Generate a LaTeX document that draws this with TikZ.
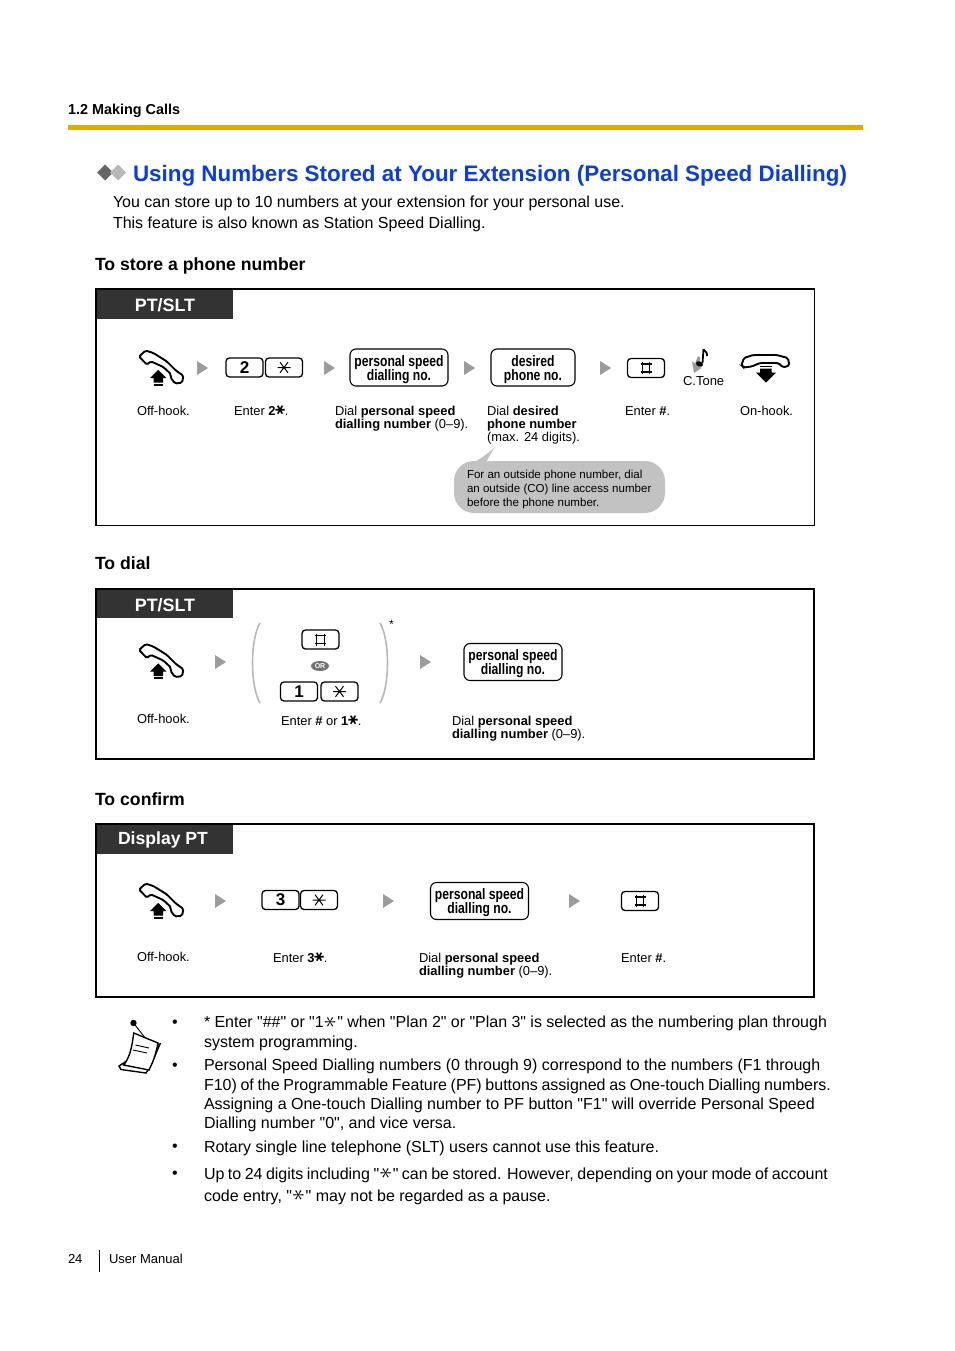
\documentclass[tikz,border=0pt]{standalone}
\usepackage{fontspec}
\setmainfont{Liberation Sans}
\newfontfamily\notefont{Liberation Sans}
\newfontfamily\softfont[FakeStretch=0.8]{Liberation Sans}
\newfontfamily\symfont{DejaVu Sans}
\usetikzlibrary{positioning}
\usetikzlibrary{shapes,arrows,backgrounds,fit,shapes.geometric,calc}
\definecolor{rulegold}{HTML}{DDAE00}
\definecolor{titleblue}{HTML}{0A3CE6}
\definecolor{headdark}{HTML}{333333}
\definecolor{markgrey}{HTML}{9C9C9C}
\definecolor{bubblegrey}{HTML}{C2C2C2}
\newcommand{\fsize}[2]{\fontsize{#1}{#2}\selectfont\lineskiplimit=-20pt\relax}
\newcommand{\heavystar}{\rotatebox[origin=c]{90}{\symfont\bfseries\fontsize{15}{15}\selectfont\char"2217}}
\newcommand{\thinstar}{\hspace{1pt}\rotatebox[origin=c]{90}{\fontsize{24.88}{25}\selectfont$\ast$}\hspace{1pt}}
\newcommand{\softtext}[2]{\rule{0pt}{15pt}#1\\#2}
\tikzset{
    % text styles
    plain/.style={anchor=base west, inner sep=0pt, outer sep=0pt, align=left},
    caption/.style={plain, font=\fsize{12.9}{13}},
    body/.style={plain, font=\notefont\fsize{16}{19.2}},
    heading/.style={plain, font=\bfseries\fsize{17.65}{20}},
    % panel parts
    panel/.style={draw, line width=1.5pt},
    tab/.style={fill=headdark},
    tabtext/.style={text=white, font=\bfseries\fsize{17.9}{20}, inner sep=0pt},
    keybox/.style={draw, line width=1.3pt, rounded corners=3.5pt, minimum width=37pt,
           minimum height=19pt, inner sep=0pt, font=\bfseries\fsize{17}{17}},
    softbox/.style={draw, line width=1.1pt, rounded corners=6pt, minimum height=37pt,
           inner sep=0pt, align=center, font=\softfont\bfseries\fsize{15.2}{14}},
    % go-on triangle
    nextmark/.pic={\fill [markgrey] (0,-7) -- (11,0) -- (0,7) -- cycle;},
    % off-hook handset with arrow
    offhook/.pic={
        \draw [line width=1.9pt, rounded corners=1.6pt, fill=white]
          (9,14) -- (15.7,8) -- (23.3,10.5) -- (36.7,18.8) -- (46.2,28.3) -- (53.5,33.3)
          -- (52,40.2) -- (45,41) -- (40.5,35) -- (41,31.7) -- (33.3,24.5) -- (20.7,18.8)
          -- (17,22.2) -- cycle;
        \fill (28.3,27.3) -- (36.7,35.7) -- (33,35.7) -- (33,40) -- (23.5,40) -- (23.5,35.7) -- (20,35.7) -- cycle;
        \fill (23.5,41) rectangle (33,43);
    },
    % on-hook handset with arrow
    onhook/.pic={
        \draw [line width=1.9pt, rounded corners=1.6pt, fill=white]
          (61.5,23.3) -- (63.8,16) -- (73.3,13) -- (96.7,13) -- (107.8,16) -- (109.5,23.3)
          -- (103.3,25.5) -- (98.3,21) -- (80,21) -- (71.7,24.5) -- (63.8,25.5) -- cycle;
        \fill (80,23.5) rectangle (91.7,25);
        \fill (80,26.7) -- (91.7,26.7) -- (91.7,30.7) -- (96,30.7) -- (86,40.7) -- (76,30.7) -- (80,30.7) -- cycle;
    },
    % star and hash marks drawn on keys
    starmark/.pic={
        \draw [line width=1pt] (-6.5,0) -- (6.5,0) (-4,-5.3) -- (4,5.3) (-4,5.3) -- (4,-5.3);
    },
    hashmark/.pic={
        \draw [line width=1.2pt] (-5.5,-4) -- (5.5,-4) (-5.5,4) -- (5.5,4)
            (-3.8,-6) -- (-3.8,6) (3.8,-6) -- (3.8,6);
    },
}
\begin{document}
\begin{tikzpicture}[x=1pt, y=-1pt]
\useasboundingbox (0,0) rectangle (954,1351);

%%%%%%%%%%%%%%%%%%%%%%%%%%%%%%%%%

% page head
\node [plain, font=\bfseries\fsize{14.4}{16}] (section) at (68,115) {1.2 Making Calls};
\fill [rulegold] (68,125) rectangle (863,130);

% title
\fill [black!60] (105,164.5) -- (113,172.5) -- (105,180.5) -- (97,172.5) -- cycle;
\fill [black!28] (118,164.5) -- (126,172.5) -- (118,180.5) -- (110,172.5) -- cycle;
\node [plain, text=titleblue, font=\bfseries\fsize{22.4}{26}] (title) at (133,181.5) {Using Numbers Stored at Your Extension (Personal Speed Dialling)};
\node [body] (introA) at (113,207.5) {You can store up to 10 numbers at your extension for your personal use.};
\node [body] (introB) at (113,228) {This feature is also known as Station Speed Dialling.};

% store panel
\node [heading] (storehead) at (95,270) {To store a phone number};
\fill [tab] (96,289) rectangle (233,319);
\draw [panel] (96,289) rectangle (814.5,525.5);
\node [tabtext] (storetab) at (165,305) {PT/SLT};

\path (130,342.5) pic {offhook};
\path (197,368) pic {nextmark};
\node [keybox] (storetwo) at (244.5,367.5) {2};
\node [keybox] (storestar) at (284,367.5) {};
\path (storestar) pic {starmark};
\path (324,368) pic {nextmark};
\node [softbox, minimum width=98pt] (storespeed) at (399,367.5) {\softtext{personal speed}{dialling no.}};
\path (464,368) pic {nextmark};
\node [softbox, minimum width=84pt] (storedesired) at (533,367.5) {\softtext{desired}{phone no.}};
\path (600,368) pic {nextmark};
\node [keybox] (storehash) at (646,368) {};
\path (storehash) pic {hashmark};

% tone mark
\fill [markgrey] (698,356) -- (700.5,358) -- (698.5,366) -- (701.5,368) -- (694,373) -- (692,361.5) -- (695,363.5) -- cycle;
\draw [line width=1.8pt] (703.5,349) -- (702.5,363);
\draw [line width=1.8pt] (703.5,349.5) .. controls (705,352) and (707.5,352) .. (707,356);
\fill [rotate around={-20:(699.5,364)}] (699.5,364) ellipse (3.6pt and 2.6pt);
\node [plain, font=\fsize{13}{14}] (tone) at (683,385) {C.Tone};
\path (680,342) pic {onhook};

\node [caption] (storecapA) at (137,415) {Off-hook.};
\node [caption] (storecapB) at (234,415) {Enter \textbf{2\heavystar}.};
\node [caption] (storecapC) at (335,428) {Dial \textbf{personal speed}\\\textbf{dialling number} (0–9).};
\node [caption] (storecapD) at (487,441) {Dial \textbf{desired}\\\textbf{phone number}\\(max. 24 digits).};
\node [caption] (storecapE) at (625,415.5) {Enter \textbf{\#}.};
\node [caption] (storecapF) at (740,415) {On-hook.};

% outside line hint
\fill [bubblegrey] (473,463) .. controls (481,458) and (488,454) .. (495,447) .. controls (491,453) and (488,458) .. (486,463) -- cycle;
\fill [bubblegrey, rounded corners=20pt] (454,461) rectangle (665,513);
\node [plain, font=\fsize{11.56}{14}] (hint) at (467,506) {For an outside phone number, dial\\an outside (CO) line access number\\before the phone number.};

% dial panel
\node [heading] (dialhead) at (95,569) {To dial};
\fill [tab] (96,589) rectangle (233,618);
\draw [panel] (96,589) rectangle (814,759);
\node [tabtext] (dialtab) at (165,605) {PT/SLT};

\path (130,636) pic {offhook};
\path (215,662) pic {nextmark};
\draw [line width=1.6pt, black!28] (260,623) .. controls (250,640) and (250,686) .. (260,703);
\draw [line width=1.6pt, black!28] (380,623) .. controls (390,640) and (390,686) .. (380,703);
\node [plain, font=\fsize{12}{12}] (dialnote) at (389,628) {*};
\node [keybox] (dialhash) at (320.5,639.5) {};
\path (dialhash) pic {hashmark};
\node [ellipse, fill=black!55, text=white, inner sep=0pt, minimum width=18pt, minimum height=10pt, font=\bfseries\fsize{7}{7}] (dialor) at (320,666) {OR};
\node [keybox] (dialone) at (299,691.5) {1};
\node [keybox] (dialstar) at (339.5,691.5) {};
\path (dialstar) pic {starmark};
\path (420,662) pic {nextmark};
\node [softbox, minimum width=98pt] (dialspeed) at (513,662) {\softtext{personal speed}{dialling no.}};

\node [caption] (dialcapA) at (137,723.5) {Off-hook.};
\node [caption] (dialcapB) at (281,725) {Enter \textbf{\#} or \textbf{1\heavystar}.};
\node [caption] (dialcapC) at (452,738) {Dial \textbf{personal speed}\\\textbf{dialling number} (0–9).};

% confirm panel
\node [heading] (confirmhead) at (95,805) {To confirm};
\fill [tab] (96,824) rectangle (233,854);
\draw [panel] (96,824) rectangle (814,997);
\node [tabtext, font=\bfseries\fsize{17.6}{20}] (confirmtab) at (163,840) {Display PT};

\path (130,875.5) pic {offhook};
\path (215,901) pic {nextmark};
\node [keybox] (confirmthree) at (280.5,900) {3};
\node [keybox] (confirmstar) at (319,900) {};
\path (confirmstar) pic {starmark};
\path (383,901) pic {nextmark};
\node [softbox, minimum width=98pt] (confirmspeed) at (479.5,901) {\softtext{personal speed}{dialling no.}};
\path (569,901) pic {nextmark};
\node [keybox] (confirmhash) at (640,901) {};
\path (confirmhash) pic {hashmark};

\node [caption] (confirmcapA) at (137,961.5) {Off-hook.};
\node [caption] (confirmcapB) at (273,962) {Enter \textbf{3\heavystar}.};
\node [caption] (confirmcapC) at (419,975) {Dial \textbf{personal speed}\\\textbf{dialling number} (0–9).};
\node [caption] (confirmcapD) at (621,962) {Enter \textbf{\#}.};

% note pad
\fill [black] (133.5,1023) circle (3.2pt);
\draw [line width=0.9pt] (133.5,1023) -- (146,1039);
\draw [line width=1.4pt, fill=white] (119,1066) -- (121,1069.5) -- (146,1073) .. controls (152,1064) and (156,1053) .. (160,1044) -- (150,1046) -- cycle;
\draw [line width=1.4pt, fill=white] (133.7,1033) .. controls (132,1047) and (130,1057) .. (123.7,1065) -- (149,1070) .. controls (154,1060) and (156,1053) .. (158,1043) -- cycle;
\draw [line width=0.9pt] (135.5,1045) -- (149,1048) (133,1050) -- (147,1053);

% notes
\node [body] (bulletA) at (172,1027) {•};
\node [body] (noteA) at (204,1047) {\makebox[623pt][s]{* Enter "\#\#" or "1\thinstar" when "Plan 2" or "Plan 3" is selected as the numbering plan through}\\system programming.};
\node [body] (bulletB) at (172,1070) {•};
\node [body] (noteB) at (204,1128.5) {Personal Speed Dialling numbers (0 through 9) correspond to the numbers (F1 through\\\makebox[627pt][s]{F10) of the Programmable Feature (PF) buttons assigned as One-touch Dialling numbers.}\\Assigning a One-touch Dialling number to PF button "F1" will override Personal Speed\\Dialling number "0", and vice versa.};
\node [body] (bulletC) at (172,1151) {•};
\node [body] (noteC) at (204,1152) {Rotary single line telephone (SLT) users cannot use this feature.};
\node [body] (bulletD) at (172,1178) {•};
\node [body, font=\notefont\fsize{16}{22}] (noteD) at (204,1201) {\makebox[624pt][s]{Up to 24 digits including "\thinstar" can be stored. However, depending on your mode of account}\\code entry, "\thinstar" may not be regarded as a pause.};

% page foot
\node [plain, font=\fsize{13}{14}] (pageno) at (68,1263) {24};
\draw [line width=0.8pt] (99.5,1250) -- (99.5,1272);
\node [plain, font=\fsize{13}{14}] (manual) at (109,1263) {User Manual};

\end{tikzpicture}
\end{document}
